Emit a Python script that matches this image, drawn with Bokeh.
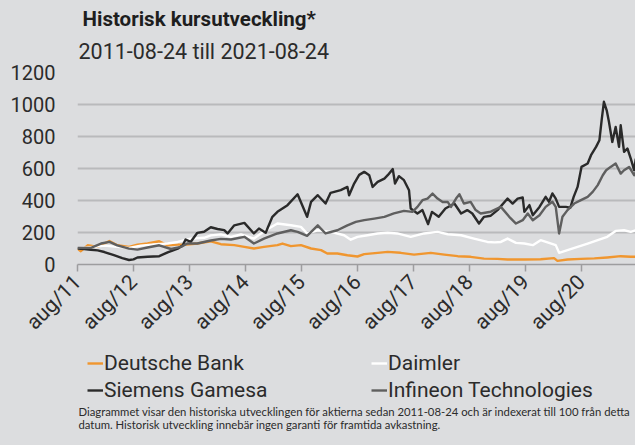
from math import pi
from bokeh.plotting import figure
from bokeh.layouts import column
from bokeh.models import Legend, LegendItem, FixedTicker, Range1d, Title, Label
from bokeh.embed import file_html
from bokeh.resources import INLINE

# ---- data (years since 2011-08-24, index = 100 at start) ----
tick_labels = ["aug/11", "aug/12", "aug/13", "aug/14", "aug/15", "aug/16",
               "aug/17", "aug/18", "aug/19", "aug/20", "aug/21"]
y_ticks = [0, 200, 400, 600, 800, 1000, 1200]

db_t = [0, 0.06, 0.18, 0.36, 0.57, 0.71, 0.92, 1.07, 1.25, 1.46, 1.61, 1.79, 1.96, 2.14,
        2.38, 2.56, 2.8, 2.98, 3.15, 3.33, 3.57, 3.66, 3.81, 3.99, 4.17, 4.35, 4.46, 4.64,
        4.82, 5.0, 5.12, 5.36, 5.54, 5.77, 6.01, 6.31, 6.55, 6.79, 7.02, 7.26, 7.5, 7.68,
        7.98, 8.27, 8.51, 8.57, 8.75, 8.99, 9.23, 9.46, 9.7, 9.88, 9.97]
db_v = [99, 83, 120, 110, 147, 120, 110, 124, 131, 145, 120, 124, 124, 131,
        145, 127, 121, 110, 100, 110, 121, 131, 115, 121, 100, 90, 69, 69,
        58, 50, 65, 73, 79, 73, 62, 73, 62, 52, 48, 37, 35, 31,
        31, 33, 40, 23, 31, 35, 38, 44, 52, 48, 48]

dai_t = [0, 0.24, 0.48, 0.71, 0.92, 1.13, 1.37, 1.61, 1.79, 2.02, 2.26, 2.38, 2.56, 2.74,
         2.92, 3.15, 3.36, 3.57, 3.81, 3.99, 4.1, 4.29, 4.52, 4.76, 4.88, 5.0, 5.18, 5.36,
         5.54, 5.71, 5.95, 6.19, 6.43, 6.61, 6.85, 7.08, 7.32, 7.45, 7.56, 7.68, 7.83, 7.98,
         8.13, 8.27, 8.42, 8.54, 8.6, 8.75, 8.93, 9.11, 9.29, 9.46, 9.61, 9.76, 9.88, 9.97]
dai_v = [100, 108, 118, 110, 104, 118, 126, 131, 141, 162, 167, 182, 188, 173,
         188, 162, 214, 256, 245, 235, 194, 214, 204, 183, 155, 173, 183, 194,
         198, 194, 173, 194, 204, 189, 183, 162, 141, 138, 141, 162, 135, 131,
         121, 152, 135, 121, 73, 90, 110, 131, 152, 173, 210, 214, 204, 214]

sg_t = [0, 0.12, 0.24, 0.36, 0.48, 0.65, 0.8, 0.92, 1.0, 1.07, 1.25, 1.46, 1.61, 1.79,
        1.88, 1.93, 2.02, 2.14, 2.26, 2.38, 2.5, 2.62, 2.68, 2.8, 2.98, 3.15, 3.24, 3.36,
        3.48, 3.57, 3.75, 3.93, 4.1, 4.17, 4.29, 4.43, 4.52, 4.7, 4.82, 4.85, 4.94, 5.03,
        5.12, 5.21, 5.27, 5.36, 5.48, 5.54, 5.63, 5.67, 5.74, 5.83, 5.92, 5.95, 6.07, 6.16,
        6.26, 6.33, 6.45, 6.57, 6.73, 6.85, 6.96, 7.05, 7.17, 7.26, 7.38, 7.5, 7.68, 7.77,
        7.86, 7.95, 7.98, 8.07, 8.13, 8.25, 8.36, 8.42, 8.48, 8.54, 8.6, 8.72, 8.8, 8.86,
        8.93, 9.0, 9.11, 9.17, 9.26, 9.32, 9.36, 9.4, 9.45, 9.49, 9.55, 9.61, 9.67, 9.7,
        9.76, 9.82, 9.88, 9.94, 9.97]
sg_v = [100, 97, 92, 88, 78, 58, 40, 28, 32, 44, 48, 52, 76, 99,
        120, 156, 141, 198, 205, 233, 222, 215, 194, 245, 260, 194, 225, 198,
        298, 329, 371, 439, 298, 391, 433, 381, 448, 465, 485, 433, 506, 560,
        579, 558, 485, 516, 537, 558, 596, 506, 552, 527, 464, 350, 319, 340,
        252, 329, 298, 350, 381, 319, 340, 319, 256, 298, 305, 340, 412, 381,
        412, 419, 329, 371, 308, 360, 423, 392, 444, 412, 360, 360, 355, 423,
        485, 610, 631, 683, 735, 777, 902, 1017, 964, 892, 766, 860, 735, 870,
        704, 725, 662, 590, 662]

inf_t = [0, 0.24, 0.42, 0.57, 0.71, 0.92, 1.07, 1.25, 1.46, 1.67, 1.85, 1.96, 2.14, 2.38,
         2.56, 2.74, 2.98, 3.15, 3.33, 3.57, 3.81, 3.93, 4.1, 4.29, 4.43, 4.64, 4.82, 4.97,
         5.12, 5.3, 5.48, 5.65, 5.83, 5.98, 6.07, 6.16, 6.25, 6.34, 6.43, 6.52, 6.61, 6.67,
         6.76, 6.82, 6.9, 7.02, 7.11, 7.2, 7.38, 7.56, 7.71, 7.83, 7.95, 8.04, 8.13, 8.25,
         8.36, 8.48, 8.54, 8.6, 8.66, 8.75, 8.87, 8.99, 9.11, 9.2, 9.29, 9.38, 9.44, 9.52,
         9.61, 9.7, 9.76, 9.85, 9.94, 9.97]
inf_v = [104, 104, 131, 141, 120, 99, 93, 106, 120, 97, 110, 131, 131, 150,
         160, 156, 173, 131, 162, 194, 214, 204, 179, 245, 194, 214, 245, 266,
         277, 287, 298, 319, 335, 329, 360, 402, 412, 443, 412, 391, 391, 360,
         412, 439, 381, 391, 340, 319, 330, 360, 298, 256, 277, 319, 277, 308,
         360, 392, 360, 194, 298, 340, 381, 402, 423, 454, 496, 558, 589, 610,
         631, 568, 589, 610, 558, 579]

names = ["Deutsche Bank", "Daimler", "Siemens Gamesa", "Infineon Technologies"]
colors = ["#f0962f", "#ffffff", "#2a2a2a", "#5f5f5f"]

title_text = "Historisk kursutveckling*"
subtitle_text = "2011-08-24 till 2021-08-24"
foot_line1 = ("Diagrammet visar den historiska utvecklingen för aktierna sedan 2011-08-24 "
              "och är indexerat till 100 från detta")
foot_line2 = "datum. Historisk utveckling innebär ingen garanti för framtida avkastning."

BG = "#dcdddf"
TXT = "#2b2b2b"
FONT = "Roboto"
FOOT_FONT = "Lato"

TOP, FRAME_H, BOTTOM = 72, 192, 84
OVERLAP = 2
STRIP_TOP = TOP + FRAME_H + BOTTOM - OVERLAP
STRIP_H = 445 - STRIP_TOP

# ---------------- main chart ----------------
p = figure(width=635, height=TOP + FRAME_H + BOTTOM, frame_width=558, frame_height=FRAME_H,
           output_backend="svg", toolbar_location=None,
           x_range=Range1d(0, 558 / 56), y_range=Range1d(0, 1200),
           min_border_left=77, min_border_right=0, min_border_top=TOP,
           min_border_bottom=BOTTOM)
p.title = None
p.background_fill_color = BG
p.border_fill_color = BG
p.outline_line_color = None

p.xgrid.visible = False
p.ygrid.grid_line_color = "#b9babc"
p.ygrid.grid_line_width = 2

p.yaxis.ticker = FixedTicker(ticks=y_ticks)
p.yaxis.axis_line_color = None
p.yaxis.major_tick_line_color = None
p.yaxis.major_tick_out = 0
p.yaxis.major_tick_in = 0
p.yaxis.minor_tick_line_color = None
p.yaxis.major_label_standoff = 22
p.yaxis.major_label_text_font_size = "20px"
p.yaxis.major_label_text_font = FONT
p.yaxis.major_label_text_color = TXT

p.xaxis.ticker = FixedTicker(ticks=list(range(len(tick_labels))))
p.xaxis.major_label_overrides = {i: s for i, s in enumerate(tick_labels)}
p.xaxis.major_label_orientation = pi / 4
p.xaxis.axis_line_color = "#9d9d9f"
p.xaxis.axis_line_width = 1.5
p.xaxis.major_tick_line_color = "#9d9d9f"
p.xaxis.major_tick_line_width = 1.5
p.xaxis.major_tick_out = 7
p.xaxis.major_tick_in = 0
p.xaxis.minor_tick_line_color = None
p.xaxis.major_label_standoff = 7
p.xaxis.major_label_text_font_size = "21px"
p.xaxis.major_label_text_font = FONT
p.xaxis.major_label_text_color = TXT

series = [(db_t, db_v), (dai_t, dai_v), (sg_t, sg_v), (inf_t, inf_v)]
for (t, v), c in zip(series, colors):
    p.line(t, v, line_color=c, line_width=2.4, line_join="round")

# titles above (first added = nearest the frame)
p.add_layout(Title(text=subtitle_text, align="left", offset=1, standoff=18,
                   text_font=FONT, text_font_size="21.5px", text_font_style="normal",
                   text_color=TXT), "above")
p.add_layout(Title(text=title_text, align="left", offset=5, standoff=-7,
                   text_font=FONT, text_font_size="20.5px", text_font_style="bold",
                   text_color="#1e1e1e"), "above")

# ---------------- legend + footnote strip ----------------
# frame spans page pixels x 77..635, y STRIP_TOP..445 (inverted y range = page pixels)
q = figure(width=635, height=STRIP_H, output_backend="svg", toolbar_location=None,
           x_range=Range1d(77, 635), y_range=Range1d(445, STRIP_TOP),
           min_border_left=77, min_border_right=0, min_border_top=0,
           min_border_bottom=0, x_axis_type=None, y_axis_type=None,
           margin=(-OVERLAP, 0, 0, 0))
q.title = None
q.background_fill_color = BG
q.border_fill_color = BG
q.outline_line_color = None

# legend entries refer to the same series (drawn outside this strip's range)
proxies = [q.line(t, v, line_color=c, line_width=2.4) for (t, v), c in zip(series, colors)]
legend = Legend(items=[LegendItem(label=n, renderers=[r]) for n, r in zip(names, proxies)],
                location=(10, 43), orientation="horizontal", ncols=2,
                glyph_width=16, glyph_height=20, label_height=20, label_width=264,
                label_standoff=1, spacing=3, padding=0, margin=0,
                background_fill_alpha=0, border_line_color=None,
                label_text_font=FONT, label_text_font_size="21px",
                label_text_color=TXT)
q.add_layout(legend)

q.add_layout(Label(x=78, y=411, text=foot_line1, text_baseline="middle",
                   text_font=FOOT_FONT, text_font_size="11.3px", text_color=TXT))
q.add_layout(Label(x=78, y=424, text=foot_line2, text_baseline="middle",
                   text_font=FOOT_FONT, text_font_size="11.3px", text_color=TXT))

layout = column(p, q, spacing=0, styles={"background-color": BG})
open("out.html", "w").write(file_html(layout, INLINE))
